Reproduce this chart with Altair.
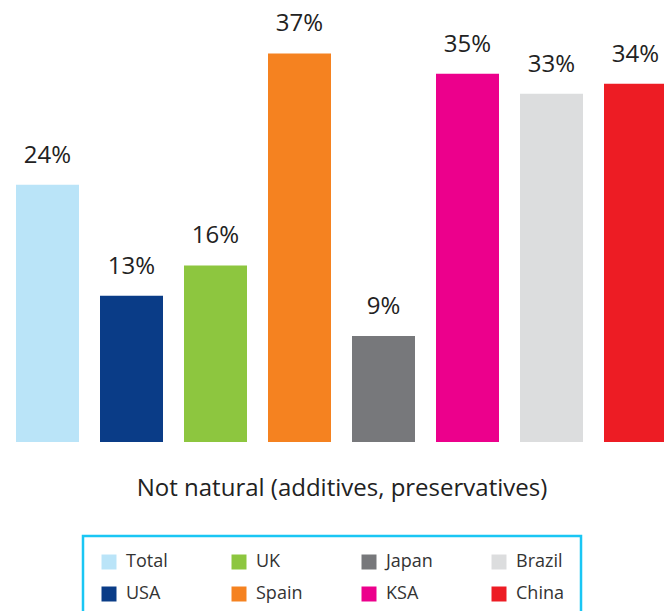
import altair as alt
import pandas as pd

countries = ["Total", "USA", "UK", "Spain", "Japan", "KSA", "Brazil", "China"]
values = [24, 13, 16, 37, 9, 35, 33, 34]
bar_colors = ["#BAE4F8", "#0A3C87", "#8DC63F", "#F58220", "#77787B", "#EC008C", "#DCDDDE", "#ED1C24"]
axis_title = "Not natural (additives, preservatives)"

df = pd.DataFrame({
    "country": countries,
    "value": values,
    "label": [f"{v}%" for v in values],
})

FONT = "Open Sans"
BASE = -1.5
TOP = 42.3

x_scale = alt.Scale(range=[16, 667], paddingInner=0.25, paddingOuter=0)
x = alt.X(
    "country:N",
    sort=countries,
    scale=x_scale,
    axis=alt.Axis(
        labels=False, ticks=False, domain=False, grid=False,
        title=axis_title, titleFont=FONT, titleFontSize=24,
        titleFontWeight="normal", titleColor="#222222", titlePadding=34,
    ),
)
y = alt.Y("value:Q", scale=alt.Scale(domain=[BASE, TOP], nice=False, zero=False), axis=None)

bars = alt.Chart(df).mark_bar(clip=True).encode(
    x=x,
    y=y,
    y2=alt.datum(BASE),
    color=alt.Color(
        "country:N",
        scale=alt.Scale(domain=countries, range=bar_colors),
        legend=alt.Legend(
            orient="none", legendX=83, legendY=536, columns=4, title=None,
            symbolType="square", symbolSize=225, symbolStrokeWidth=0, symbolOpacity=1,
            labelFont=FONT, labelFontSize=18, labelColor="#333333", labelOffset=8,
            columnPadding=56, rowPadding=14, padding=17, gridAlign="all",
            strokeColor="#1AC6F4",
        ),
    ),
)

text = alt.Chart(df).mark_text(
    dy=-22, baseline="alphabetic", fontSize=24, font=FONT, color="#222222"
).encode(x=alt.X("country:N", sort=countries, scale=x_scale), y="value:Q", text="label:N")

chart = alt.layer(bars, text).properties(
    width=664, height=442,
    autosize=alt.AutoSizeParams(type="none"),
    padding={"top": 0, "left": 0, "right": 0, "bottom": 169},
).configure_view(stroke=None).configure_legend(strokeWidth=2.5)

chart.save("out.html", embed_options={"renderer": "svg", "actions": False})
